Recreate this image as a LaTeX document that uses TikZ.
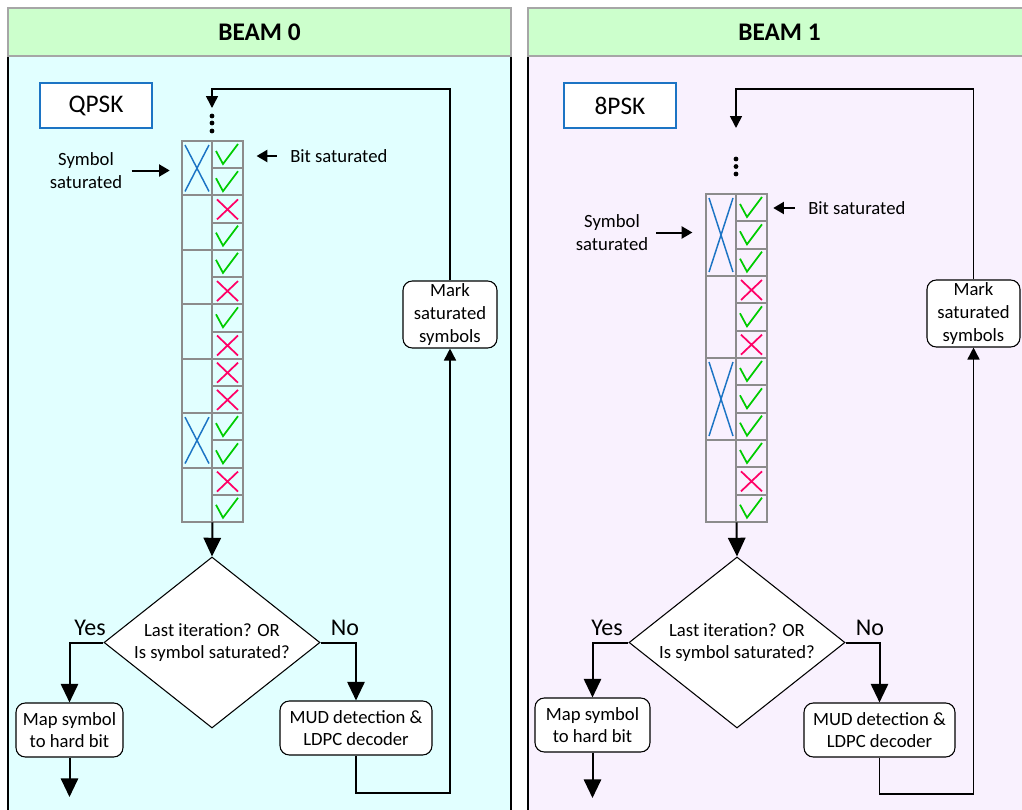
\documentclass[tikz,border=0pt]{standalone}
\usepackage{fontspec}
\setmainfont{Carlito}
\usetikzlibrary{arrows.meta,shapes.geometric,fit}

\definecolor{hdrfill}{HTML}{CCFFCC}
\definecolor{hdrline}{HTML}{A6A6A6}
\definecolor{cyanbg}{HTML}{E1FFFF}
\definecolor{lilacbg}{HTML}{F9F1FE}
\definecolor{cellline}{HTML}{8C8C8C}
\definecolor{okgreen}{HTML}{00CC00}
\definecolor{badred}{HTML}{FF0066}
\definecolor{symblue}{HTML}{1C74C4}

% marks inside the cells: #1,#2 = top-left corner, #3 = height
\newcommand\okmark[2]{\draw[okline] (#1+4,#2+10) -- (#1+11,#2+23) -- (#1+26,#2+3);}
\newcommand\badmark[2]{\draw[badline] (#1+5,#2+4) -- (#1+26,#2+24) (#1+26,#2+4) -- (#1+5,#2+24);}
\newcommand\symcross[3]{\draw[symline] (#1+3,#2+4) -- (#1+27,#2+#3-4) (#1+27,#2+4) -- (#1+3,#2+#3-4);}

\begin{document}
\begin{tikzpicture}[x=0.75pt,y=-0.75pt,
  font=\fontsize{14}{17}\selectfont,
  boxtext/.style={label={[align=center, inner sep=0]center:#1}},
  header/.style={draw=hdrline, line width=1.5pt, fill=hdrfill, inner sep=0,
    label={[font=\fontsize{19}{22}\selectfont\bfseries, inner sep=0]center:#1}},
  panel/.style={draw=black, line width=1.1pt, inner sep=0},
  modbox/.style={draw=symblue, line width=2.2pt, fill=white, inner sep=0,
    label={[font=\fontsize{19}{22}\selectfont, inner sep=0]center:#1}},
  procbox/.style={draw, line width=0.8pt, rounded corners=7pt, fill=white,
    inner sep=0, boxtext={#1}},
  decision/.style={diamond, draw, line width=0.8pt, fill=white, aspect=1.263,
    minimum width=162pt, minimum height=128.25pt, inner sep=0, align=center},
  flow/.style={line width=1.5pt, -{Triangle[length=14pt,width=13pt]}},
  loopline/.style={line width=1.2pt, -{Triangle[length=9pt,width=9pt]}},
  pointer/.style={line width=1.5pt, -{Triangle[length=8pt,width=9pt]}},
  answer/.style={font=\fontsize{18}{21}\selectfont},
  note/.style={inner sep=0, align=center},
  cell/.style={draw=cellline, line width=1.5pt},
  okline/.style={draw=okgreen, line width=1.3pt},
  badline/.style={draw=badred, line width=1.3pt},
  symline/.style={draw=symblue, line width=1.1pt}]

\useasboundingbox (0,0) rectangle (1022,810);
\clip (0,0) rectangle (1022,810);

% ---------------- panels ----------------
\node[panel, fill=cyanbg, fit={(8,56) (511,830)}] (body0) {};
\node[header={BEAM 0}, fit={(8,8) (511,56)}] (hdr0) {};
\node[panel, fill=lilacbg, fit={(528,56) (1031,830)}] (body1) {};
\node[header={BEAM 1}, fit={(528,8) (1031,56)}] (hdr1) {};

% ---------------- BEAM 0 (QPSK) ----------------
\node[modbox={QPSK}, fit={(40,83) (152,128)}] (mod0) {};

% bit column: 7 symbols of 2 bits
\foreach \b [count=\i from 0] in {1,1,0,1,1,0,1,0,0,0,1,1,0,1} {
  \pgfmathsetmacro\yy{141+\i*27.214}
  \draw[cell] (212,\yy) rectangle (243,\yy+27.214);
  \ifnum\b=1 \okmark{212}{\yy}\else\badmark{212}{\yy}\fi
}
\foreach \s [count=\j from 0] in {1,0,0,0,0,1,0} {
  \pgfmathsetmacro\yy{141+\j*54.428}
  \draw[cell] (182,\yy) rectangle (212,\yy+54.428);
  \ifnum\s=1 \symcross{182}{\yy}{54.428}\fi
}
\node[fit={(182,141) (243,522)}, inner sep=0] (col0) {};
\foreach \d in {116,123,131} \fill (212,\d) circle[radius=2.4];
\coordinate (in0) at (212,108);
\coordinate (top0) at (0,89);

\node[note, anchor=west] (bit0) at (290,156) {Bit saturated};
\node[note] (sym0) at (86,170.5) {Symbol\\saturated};
\draw[pointer, shorten <=10pt, shorten >=10pt] (bit0.west) -- (bit0.west -| col0.east);
\draw[pointer, shorten <=7pt, shorten >=9pt] (sym0.east) -- (sym0.east -| col0.west);

\node[decision] (dia0) at (212,642.5) {Last iteration? OR\\Is symbol saturated?};
\node[procbox={Map symbol\\to hard bit}, fit={(16,703) (123,757)}] (map0) {};
\node[procbox={MUD detection \&\\LDPC decoder}, fit={(280,701) (432,755)}] (mud0) {};
\node[procbox={Mark\\saturated\\symbols}, fit={(403,281) (497,348)}] (mark0) {};
\node[answer] (yes0) at (90,628) {Yes};
\node[answer] (no0) at (345,628) {No};
\coordinate (out0) at (70,797);
\coordinate (ret0) at (0,793);

\draw[flow] (col0.south) -- (dia0.north);
\draw[flow] (dia0.west) -| (map0.north);
\draw[flow] (dia0.east) -| (mud0.north);
\draw[flow] (map0.south) -- (map0.south |- out0);
\draw[loopline] (mud0.south) |- (mark0.south |- ret0) -- (mark0.south);
\draw[loopline] (mark0.north) -- (mark0.north |- top0) -| (in0);

% ---------------- BEAM 1 (8PSK) ----------------
\node[modbox={8PSK}, fit={(564,83) (676,128)}] (mod1) {};

% bit column: 4 symbols of 3 bits
\foreach \b [count=\i from 0] in {1,1,1,0,1,0,1,1,1,1,0,1} {
  \pgfmathsetmacro\yy{194+\i*27.333}
  \draw[cell] (736,\yy) rectangle (767,\yy+27.333);
  \ifnum\b=1 \okmark{736}{\yy}\else\badmark{736}{\yy}\fi
}
\foreach \s [count=\j from 0] in {1,0,1,0} {
  \pgfmathsetmacro\yy{194+\j*82}
  \draw[cell] (706,\yy) rectangle (736,\yy+82);
  \ifnum\s=1 \symcross{706}{\yy}{82}\fi
}
\node[fit={(706,194) (767,522)}, inner sep=0] (col1) {};
\foreach \d in {159,166.5,174} \fill (736,\d) circle[radius=2.4];
\coordinate (in1) at (736,128);
\coordinate (top1) at (0,89);

\node[note, anchor=west] (bit1) at (808,208) {Bit saturated};
\node[note] (sym1) at (612,232.5) {Symbol\\saturated};
\draw[pointer, shorten <=10pt, shorten >=4.5pt] (bit1.west) -- (bit1.west -| col1.east);
\draw[pointer, shorten <=6pt, shorten >=10pt] (sym1.east) -- (sym1.east -| col1.west);

\node[decision] (dia1) at (737,642.5) {Last iteration? OR\\Is symbol saturated?};
\node[procbox={Map symbol\\to hard bit}, fit={(535,698) (650,752)}] (map1) {};
\node[procbox={MUD detection \&\\LDPC decoder}, fit={(804,703) (955,757)}] (mud1) {};
\node[procbox={Mark\\saturated\\symbols}, fit={(927,280) (1020,347)}] (mark1) {};
\node[answer] (yes1) at (607,628) {Yes};
\node[answer] (no1) at (870,628) {No};
\coordinate (out1) at (592,798);
\coordinate (ret1) at (0,794);

\draw[flow] (col1.south) -- (dia1.north);
\draw[flow] (dia1.west) -| (map1.north);
\draw[flow] (dia1.east) -| (mud1.north);
\draw[flow] (map1.south) -- (map1.south |- out1);
\draw[loopline] (mud1.south) |- (mark1.south |- ret1) -- (mark1.south);
\draw[loopline] (mark1.north) -- (mark1.north |- top1) -| (in1);
\end{tikzpicture}
\end{document}
